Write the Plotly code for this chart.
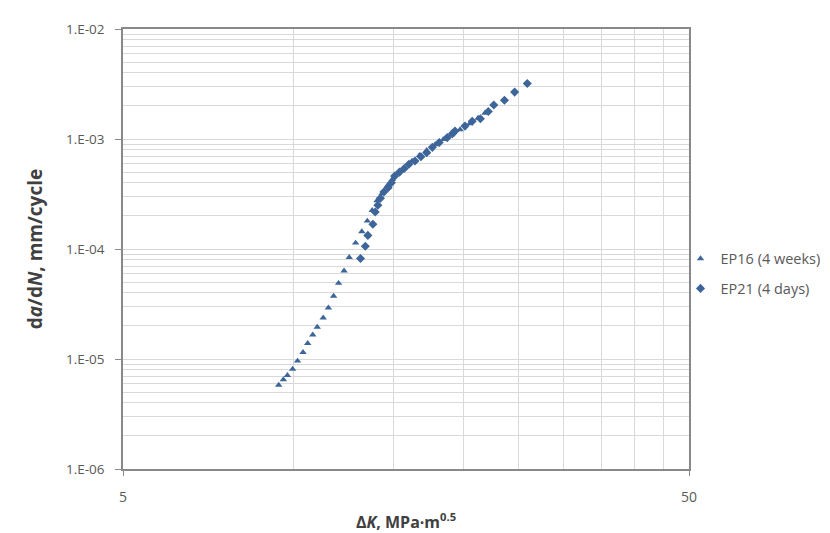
import plotly.graph_objects as go

# EP16 (4 weeks) - triangles
ep16_dk = [9.42, 9.60, 9.76, 9.97, 10.17, 10.40, 10.60, 10.82, 11.02, 11.29, 11.53, 11.78,
           12.02, 12.29, 12.55, 12.88, 13.21, 13.51, 13.78, 14.05, 14.35, 14.65, 14.95, 15.3,
           15.7, 16.2, 16.7, 17.2, 17.8, 18.4, 19.0, 19.7, 20.5, 21.2, 21.8]
ep16_rate = [5.8e-6, 6.5e-6, 7.1e-6, 8.1e-6, 9.6e-6, 1.15e-5, 1.39e-5, 1.66e-5, 1.95e-5, 2.37e-5,
             2.92e-5, 3.73e-5, 4.89e-5, 6.33e-5, 8.41e-5, 1.135e-4, 1.44e-4, 1.80e-4, 2.25e-4,
             2.75e-4, 3.2e-4, 3.75e-4, 4.3e-4, 4.9e-4, 5.5e-4, 6.3e-4, 7.1e-4, 7.9e-4, 8.9e-4,
             9.9e-4, 1.09e-3, 1.22e-3, 1.38e-3, 1.55e-3, 1.72e-3]

# EP21 (4 days) - diamonds
ep21_dk = [13.14, 13.40, 13.54, 13.82, 13.95, 14.10, 14.25, 14.45, 14.70, 14.90, 15.10, 15.40,
           15.70, 16.00, 16.40, 16.80, 17.20, 17.60, 18.10, 18.70, 19.10, 19.30, 20.10, 20.70,
           21.40, 22.10, 22.60, 23.60, 24.60, 25.90]
ep21_rate = [8.2e-5, 1.06e-4, 1.33e-4, 1.68e-4, 2.17e-4, 2.5e-4, 2.9e-4, 3.3e-4, 3.6e-4, 4.0e-4,
             4.6e-4, 5.0e-4, 5.4e-4, 5.9e-4, 6.3e-4, 6.9e-4, 7.5e-4, 8.4e-4, 9.3e-4, 1.03e-3,
             1.12e-3, 1.18e-3, 1.31e-3, 1.45e-3, 1.53e-3, 1.78e-3, 2.04e-3, 2.25e-3, 2.67e-3,
             3.2e-3]

y_tickvals = [1e-6, 1e-5, 1e-4, 1e-3, 1e-2]
y_ticktext = ["1.E-06", "1.E-05", "1.E-04", "1.E-03", "1.E-02"]
x_tickvals = [5, 50]
x_ticktext = ["5", "50"]
x_minor_grid = [10, 15, 20, 25, 30, 35, 40, 45]
y_minor_grid = [k * 10.0 ** e for e in range(-6, -2) for k in range(2, 10)]

marker_color = "#3E6599"
font_family = "Open Sans, Noto Sans, sans-serif"
text_color = "#595959"

fig = go.Figure()
fig.add_trace(go.Scatter(x=ep16_dk, y=ep16_rate, mode="markers", name="EP16 (4 weeks)",
                         legendgroup="ep16",
                         marker=dict(symbol="triangle-up", size=6.5, color=marker_color)))
fig.add_trace(go.Scatter(x=ep21_dk, y=ep21_rate, mode="markers", name="EP21 (4 days)",
                         legendgroup="ep21",
                         marker=dict(symbol="diamond", size=7, color=marker_color)))

axis_line = "#898989"
grid_color = "#D9D9D9"

fig.update_layout(
    width=830, height=533,
    margin=dict(l=115, r=139, t=15, b=65),
    paper_bgcolor="white", plot_bgcolor="white",
    font=dict(family=font_family, size=13, color=text_color),
    showlegend=True,
    legend=dict(x=0.985, y=0.444, xanchor="left", yanchor="middle",
                bgcolor="rgba(0,0,0,0)", font=dict(size=14.5, color=text_color),
                tracegroupgap=8),
    xaxis=dict(
        type="log", range=[0.69897, 1.69897],
        tickmode="array", tickvals=x_tickvals, ticktext=x_ticktext,
        tickfont=dict(size=14),
        showgrid=False, showline=True, mirror=True, linecolor=axis_line, linewidth=1.5,
        ticks="outside", ticklen=5, tickcolor=axis_line, ticklabelstandoff=9,
        zeroline=False,
        minor=dict(tickmode="array", tickvals=x_minor_grid, showgrid=True,
                   gridcolor=grid_color, gridwidth=1, ticks=""),
        title=dict(text="<b>Δ<i>K</i>, MPa·m<sup>0.5</sup></b>", font=dict(size=16, color="#404040"),
                   standoff=12),
    ),
    yaxis=dict(
        type="log", range=[-6, -2],
        tickmode="array", tickvals=y_tickvals, ticktext=y_ticktext,
        tickfont=dict(size=13.5),
        showgrid=True, gridcolor=grid_color, gridwidth=1,
        showline=True, mirror=True, linecolor=axis_line, linewidth=1.5,
        ticks="outside", ticklen=6, tickcolor=axis_line, ticklabelstandoff=8,
        zeroline=False,
        minor=dict(tickmode="array", tickvals=y_minor_grid, showgrid=True,
                   gridcolor=grid_color, gridwidth=1, ticks=""),
        title=dict(text="<b>d<i>a</i>/d<i>N</i>, mm/cycle</b>", font=dict(size=19, color="#404040"),
                   standoff=18),
    ),
)

fig.write_html("out.html")
